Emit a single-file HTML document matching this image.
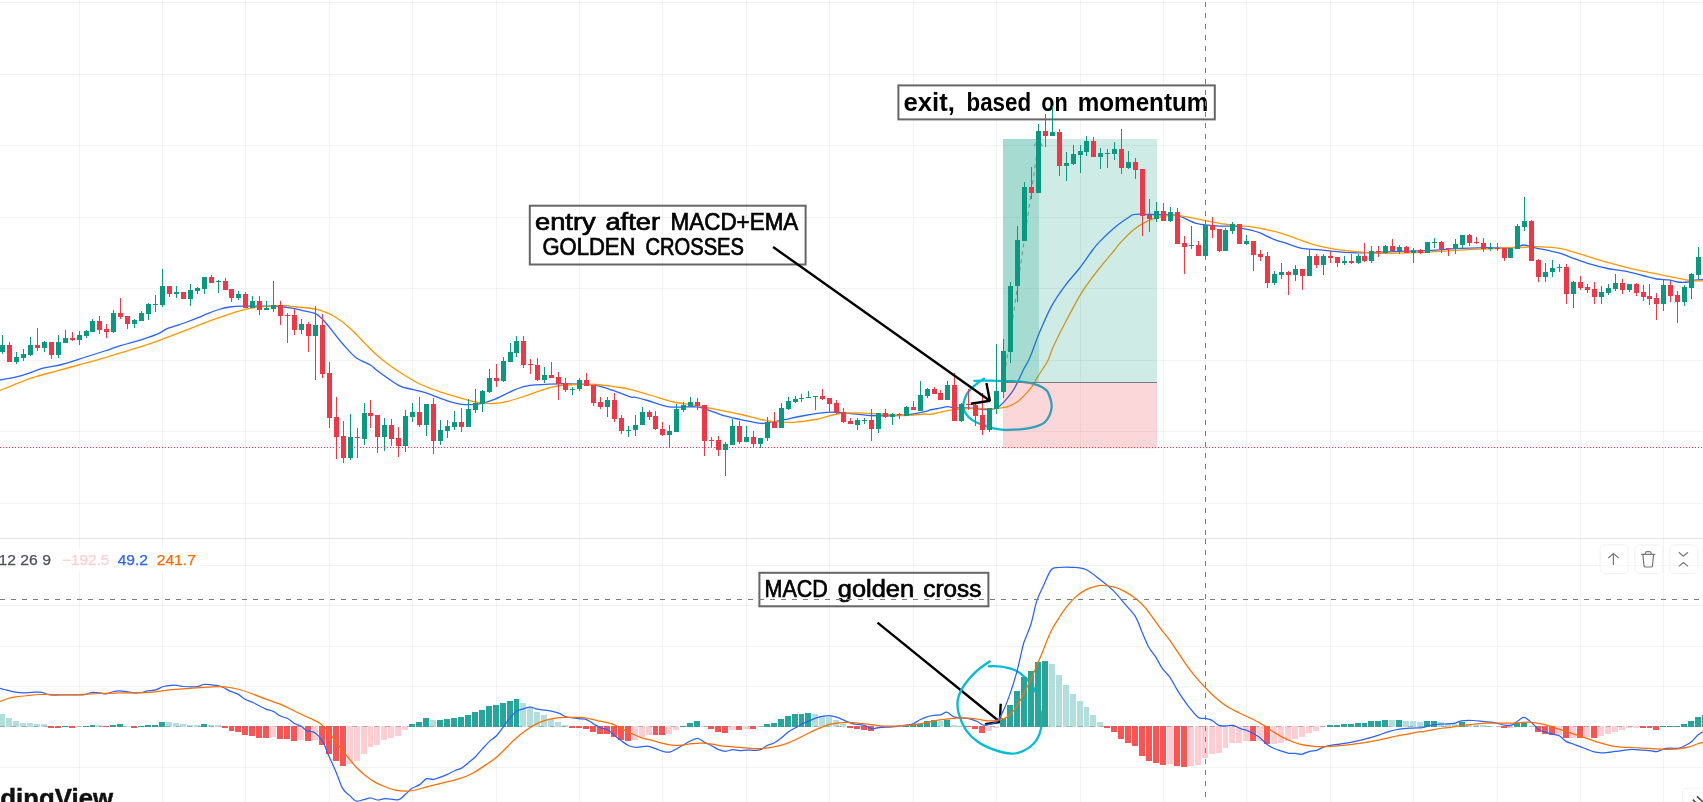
<!DOCTYPE html><html><head><meta charset="utf-8"><title>chart</title><style>
html,body{margin:0;padding:0;background:#fff}body{width:1703px;height:802px;overflow:hidden;position:relative}
svg{position:absolute;left:0;top:0;display:block}text{font-family:"Liberation Sans",sans-serif;will-change:transform}
</style></head><body>
<svg width="1703" height="802" viewBox="0 0 1703 802">
<rect width="1703" height="802" fill="#fff"/>
<path d="M79.5 0V802M162.5 0V802M245.5 0V802M329.5 0V802M412.5 0V802M496.5 0V802M579.5 0V802M662.5 0V802M746.5 0V802M829.5 0V802M913.5 0V802M996.5 0V802M1080.5 0V802M1163.5 0V802M1246.5 0V802M1330.5 0V802M1413.5 0V802M1497.5 0V802M1580.5 0V802M1663.5 0V802" stroke="#2a2e39" stroke-opacity="0.06" stroke-width="1" fill="none" shape-rendering="crispEdges"/>
<path d="M0 2.5H1703M0 74.5H1703M0 145.5H1703M0 217.5H1703M0 288.5H1703M0 360.5H1703M0 431.5H1703M0 503.5H1703M0 565.5H1703M0 605.5H1703M0 646.5H1703M0 686.5H1703M0 767.5H1703" stroke="#2a2e39" stroke-opacity="0.06" stroke-width="1" fill="none" shape-rendering="crispEdges"/>
<rect x="0" y="538" width="1703" height="1" fill="#e2e2e4" shape-rendering="crispEdges"/>
<path d="M0.0 380.0C3.7 379.2 15.2 377.3 22.4 375.3C29.6 373.3 36.5 370.0 43.0 368.2C49.5 366.4 54.8 366.3 61.7 364.5C68.6 362.7 77.0 359.8 84.2 357.5C91.4 355.2 98.8 352.9 104.7 351.0C110.6 349.1 113.8 347.6 119.7 345.8C125.6 344.0 134.1 342.0 140.3 340.1C146.5 338.2 152.4 336.2 157.1 334.2C161.8 332.2 163.3 330.2 168.3 328.2C173.3 326.2 182.0 323.8 187.0 322.0C192.0 320.2 194.8 319.1 198.2 317.7C201.6 316.3 204.2 315.0 207.6 313.6C211.0 312.2 215.1 310.6 218.8 309.5C222.5 308.4 226.2 307.6 230.0 307.0C233.8 306.4 237.6 306.2 241.3 306.1C245.1 306.0 247.5 306.1 252.5 306.1C257.5 306.1 265.9 306.0 271.2 306.1C276.5 306.2 281.2 306.7 284.3 307.0C287.4 307.3 287.2 307.4 290.0 307.9C292.8 308.4 296.6 309.2 300.9 310.1C305.1 311.1 311.9 312.0 315.5 313.6C319.1 315.2 320.4 317.2 322.7 319.5C325.0 321.8 326.0 323.1 329.3 327.1C332.6 331.1 338.0 338.5 342.4 343.5C346.8 348.5 350.8 353.6 355.5 357.2C360.2 360.8 367.1 363.1 370.7 365.3C374.3 367.6 372.6 367.3 377.3 370.7C382.0 374.1 393.3 382.5 399.1 385.6C404.9 388.7 407.8 388.1 412.2 389.3C416.6 390.5 420.2 391.0 425.3 392.6C430.4 394.2 436.9 397.2 442.7 399.1C448.5 401.0 454.4 403.3 460.2 404.1C466.0 404.9 471.9 404.9 477.7 404.1C483.5 403.3 488.8 401.6 495.1 399.1C501.5 396.6 510.0 391.6 515.8 389.3C521.6 387.0 522.9 386.3 530.0 385.4C537.1 384.5 550.0 384.0 558.4 383.8C566.8 383.6 574.0 384.0 580.2 384.3C586.4 384.6 590.0 384.4 595.5 385.4C601.0 386.4 607.1 388.5 612.9 390.4C618.7 392.3 626.8 395.8 630.4 396.9C634.0 398.0 631.5 396.6 634.4 397.2C637.2 397.8 641.7 398.9 647.5 400.5C653.3 402.1 661.3 405.8 669.3 406.8C677.3 407.9 689.7 406.5 695.5 406.8C701.3 407.1 699.1 407.0 704.2 408.6C709.3 410.2 719.1 414.2 726.0 416.2C732.9 418.2 739.8 419.4 745.6 420.6C751.4 421.8 757.2 423.0 760.9 423.4C764.5 423.8 763.9 423.2 767.5 422.7C771.1 422.1 776.5 421.3 782.7 420.1C788.9 418.9 797.3 416.8 804.6 415.5C811.9 414.2 820.6 412.8 826.4 412.3C832.2 411.8 832.2 412.0 839.5 412.5C846.8 413.0 861.3 414.9 870.0 415.5C878.7 416.1 884.5 416.1 891.8 415.8C899.1 415.6 907.9 414.8 913.7 414.0C919.5 413.2 924.0 411.9 926.7 411.2C929.4 410.5 927.8 410.4 930.0 409.9C932.2 409.4 937.1 408.7 940.0 408.2C942.9 407.7 945.0 406.8 947.5 406.7C950.0 406.6 951.2 407.7 954.9 407.9C958.6 408.1 965.4 407.6 969.9 407.9C974.4 408.1 977.9 409.2 981.9 409.4C985.9 409.6 990.8 409.5 993.8 408.9C996.8 408.3 997.8 407.4 999.8 405.9C1001.8 404.4 1003.6 402.4 1005.8 399.9C1008.0 397.4 1010.8 393.9 1012.8 390.9C1014.8 387.9 1016.0 385.5 1017.8 381.9C1019.6 378.2 1022.0 372.6 1023.8 369.0C1025.6 365.4 1027.5 362.7 1028.8 360.0C1030.1 357.3 1030.0 357.4 1031.8 352.7C1033.6 348.0 1036.5 339.6 1039.8 331.8C1043.1 324.0 1047.4 313.7 1051.7 305.9C1056.0 298.1 1061.0 291.2 1065.7 284.9C1070.4 278.6 1075.2 273.8 1079.7 268.0C1084.2 262.2 1089.3 254.4 1092.6 250.0C1095.9 245.6 1095.9 245.5 1099.7 241.6C1103.5 237.7 1110.6 230.8 1115.6 226.7C1120.6 222.5 1126.3 218.8 1129.6 216.7C1132.9 214.6 1130.9 214.6 1135.6 214.3C1140.2 214.0 1150.5 214.5 1157.5 214.7C1164.5 214.9 1170.8 214.2 1177.5 215.7C1184.2 217.2 1190.4 222.0 1197.4 223.7C1204.4 225.4 1213.1 225.7 1219.4 226.1C1225.7 226.5 1231.9 225.8 1235.3 226.1C1238.7 226.4 1237.2 227.2 1240.0 227.9C1242.8 228.6 1248.7 229.5 1252.0 230.3C1255.3 231.1 1256.3 231.4 1260.0 232.9C1263.7 234.4 1269.2 237.5 1273.9 239.3C1278.6 241.1 1283.2 242.3 1287.9 243.8C1292.6 245.3 1296.5 247.4 1301.8 248.4C1307.1 249.4 1313.5 249.2 1319.8 249.8C1326.1 250.4 1333.1 251.3 1339.8 251.8C1346.5 252.3 1353.0 252.7 1359.7 252.8C1366.4 252.9 1373.1 252.4 1379.7 252.2C1386.3 252.0 1392.9 251.6 1399.6 251.4C1406.2 251.2 1412.9 251.1 1419.6 250.8C1426.2 250.5 1432.8 250.2 1439.5 249.8C1446.2 249.4 1452.8 248.7 1459.5 248.4C1466.2 248.1 1472.8 247.9 1479.4 247.8C1486.1 247.7 1495.5 247.8 1499.4 247.8C1503.3 247.9 1500.1 248.2 1503.0 248.1C1505.9 248.0 1513.5 247.7 1517.0 247.2C1520.5 246.7 1521.0 244.9 1523.9 245.0C1526.8 245.1 1530.6 246.7 1534.4 247.6C1538.2 248.5 1542.5 249.3 1546.6 250.2C1550.7 251.1 1554.4 251.5 1558.8 252.8C1563.2 254.1 1567.5 256.2 1572.8 258.1C1578.0 260.0 1584.5 262.5 1590.3 264.2C1596.1 265.9 1601.9 267.3 1607.7 268.5C1613.5 269.7 1619.4 270.0 1625.2 271.2C1631.0 272.4 1637.4 274.2 1642.6 275.5C1647.8 276.8 1652.2 278.3 1656.6 279.0C1661.0 279.7 1665.3 279.4 1668.8 279.9C1672.3 280.4 1674.3 281.6 1677.5 282.0C1680.7 282.4 1685.1 282.3 1688.0 282.0C1690.9 281.7 1692.5 280.6 1695.0 280.2C1697.5 279.8 1701.7 279.6 1703.0 279.5" fill="none" stroke="#2962ff" stroke-width="1.3" stroke-linejoin="round" stroke-linecap="round"/>
<path d="M0.0 390.6C3.1 389.3 12.5 385.2 18.7 382.8C24.9 380.4 31.2 378.1 37.4 376.2C43.6 374.3 49.2 373.1 56.1 371.2C63.0 369.3 71.3 367.0 78.5 365.0C85.7 363.0 92.2 361.4 99.1 359.4C106.0 357.4 112.8 355.3 119.7 353.2C126.6 351.1 133.5 349.1 140.3 346.9C147.2 344.7 154.3 342.2 160.8 339.8C167.3 337.4 173.3 335.1 179.5 332.7C185.7 330.3 192.0 327.8 198.2 325.4C204.4 323.0 211.0 320.4 216.9 318.3C222.8 316.2 228.8 314.3 233.8 312.7C238.8 311.1 242.2 309.9 246.9 308.9C251.6 307.9 257.1 307.2 261.8 306.7C266.5 306.2 270.5 305.9 274.9 305.7C279.3 305.5 285.5 305.6 288.0 305.7C290.5 305.8 287.5 306.1 290.0 306.4C292.5 306.7 298.0 306.9 303.1 307.5C308.2 308.1 315.1 308.7 320.5 310.3C325.9 311.9 330.7 314.1 335.8 317.3C340.9 320.5 344.2 322.9 351.1 329.3C358.0 335.7 369.3 348.4 377.3 355.5C385.3 362.6 391.8 367.0 399.1 371.8C406.4 376.6 413.6 381.0 420.9 384.5C428.2 388.0 435.4 390.2 442.7 392.6C450.0 395.0 458.8 397.5 464.6 399.1C470.4 400.7 473.0 401.7 477.7 402.4C482.4 403.1 487.8 403.7 492.9 403.5C498.0 403.3 502.0 402.8 508.2 401.3C514.4 399.8 522.7 396.7 530.0 394.3C537.3 391.9 544.5 388.7 551.8 387.1C559.1 385.5 566.4 384.9 573.7 384.5C581.0 384.1 588.2 384.1 595.5 384.5C602.8 384.9 611.5 386.3 617.3 387.1C623.0 387.9 624.2 387.9 630.0 389.3C635.8 390.7 644.5 393.4 651.8 395.5C659.1 397.6 666.3 400.4 673.6 402.0C680.9 403.6 688.2 404.0 695.5 405.3C702.8 406.6 710.0 408.2 717.3 409.6C724.6 411.1 731.8 412.4 739.1 414.0C746.4 415.6 755.1 418.2 760.9 419.5C766.7 420.8 768.5 421.1 774.0 421.6C779.5 422.1 786.7 422.7 793.6 422.3C800.5 421.9 808.2 420.9 815.5 419.5C822.8 418.1 830.4 415.1 837.3 414.0C844.2 412.9 849.6 412.9 856.9 412.9C864.2 412.9 873.3 413.6 880.9 414.0C888.5 414.4 895.4 415.5 902.7 415.5C910.0 415.5 920.1 414.2 924.6 414.0C929.1 413.8 927.4 414.7 930.0 414.4C932.6 414.1 936.4 413.1 940.0 412.4C943.6 411.6 946.9 410.6 951.9 409.9C956.9 409.2 964.9 408.6 969.9 408.4C974.9 408.2 977.9 408.6 981.9 408.6C985.9 408.6 990.3 408.8 993.8 408.6C997.3 408.5 1000.1 408.1 1002.8 407.7C1005.5 407.2 1007.3 406.9 1009.8 405.9C1012.3 404.8 1015.1 403.4 1017.8 401.4C1020.5 399.4 1023.5 396.3 1025.8 393.9C1028.1 391.5 1030.0 389.2 1031.7 386.9C1033.4 384.6 1033.9 383.0 1035.7 380.0C1037.5 377.0 1040.6 372.3 1042.7 369.0C1044.8 365.7 1046.4 363.9 1048.2 360.0C1050.0 356.1 1050.8 352.2 1053.7 345.8C1056.6 339.4 1061.4 330.1 1065.7 321.8C1070.0 313.5 1076.1 302.2 1079.7 295.9C1083.3 289.6 1084.3 288.5 1087.6 283.9C1090.9 279.2 1095.1 273.6 1099.6 268.0C1104.1 262.4 1111.3 254.1 1114.6 250.0C1117.9 245.9 1116.4 247.0 1119.6 243.6C1122.8 240.2 1128.9 233.4 1133.6 229.7C1138.2 225.9 1143.2 223.2 1147.5 221.1C1151.8 219.0 1154.8 218.1 1159.5 217.1C1164.2 216.1 1168.8 214.7 1175.5 215.1C1182.2 215.5 1192.1 217.9 1199.4 219.3C1206.7 220.7 1213.4 222.3 1219.4 223.3C1225.4 224.3 1231.9 224.9 1235.3 225.3C1238.7 225.7 1237.2 225.6 1240.0 225.9C1242.8 226.2 1247.7 226.3 1252.0 226.9C1256.3 227.5 1261.2 228.5 1265.9 229.5C1270.6 230.5 1274.9 231.4 1279.9 232.9C1284.9 234.4 1290.9 236.6 1295.9 238.3C1300.9 240.1 1305.2 241.9 1309.8 243.4C1314.4 244.9 1318.8 246.1 1323.8 247.2C1328.8 248.3 1333.8 249.0 1339.8 249.8C1345.8 250.6 1353.0 251.2 1359.7 251.8C1366.4 252.4 1373.1 253.2 1379.7 253.4C1386.3 253.6 1392.9 253.4 1399.6 253.2C1406.2 253.0 1412.9 252.7 1419.6 252.4C1426.2 252.1 1432.8 251.8 1439.5 251.4C1446.2 251.0 1452.8 250.6 1459.5 250.2C1466.2 249.8 1472.8 249.5 1479.4 249.2C1486.1 248.9 1495.5 248.7 1499.4 248.4C1503.3 248.1 1499.5 247.7 1503.0 247.6C1506.5 247.5 1515.3 247.8 1520.5 247.6C1525.7 247.4 1530.1 246.8 1534.4 246.7C1538.8 246.6 1541.9 246.8 1546.6 247.2C1551.2 247.5 1557.3 247.9 1562.3 248.8C1567.2 249.7 1571.6 251.4 1576.3 252.8C1581.0 254.2 1585.1 255.6 1590.3 257.2C1595.5 258.8 1601.9 260.8 1607.7 262.4C1613.5 264.0 1619.4 265.6 1625.2 267.1C1631.0 268.6 1636.8 269.9 1642.6 271.2C1648.4 272.4 1654.3 273.5 1660.1 274.6C1665.9 275.8 1672.8 277.2 1677.5 278.1C1682.2 279.0 1685.1 279.8 1688.0 280.2C1690.9 280.6 1692.5 280.7 1695.0 280.8C1697.5 280.9 1701.7 280.8 1703.0 280.8" fill="none" stroke="#ff9800" stroke-width="1.3" stroke-linejoin="round" stroke-linecap="round"/>
<path d="M974.4 380.9C975.3 380.8 977.4 380.7 980 380.6C982.6 380.6 985.7 380.5 990 380.6C994.3 380.7 1000.8 380.9 1005.8 381.1C1010.8 381.3 1015.1 381.2 1019.8 381.7C1024.5 382.2 1029.9 382.9 1033.7 383.9C1037.5 384.8 1040.4 386.1 1042.7 387.4C1045.0 388.7 1046.4 389.8 1047.7 391.9C1049.0 394.0 1050.0 397.4 1050.7 399.9C1051.4 402.4 1051.9 404.4 1051.7 406.9C1051.5 409.4 1050.9 412.3 1049.7 414.9C1048.5 417.5 1047.2 420.3 1044.7 422.3C1042.2 424.3 1038.9 425.6 1034.7 426.8C1030.5 428.0 1024.8 428.8 1019.8 429.3C1014.8 429.8 1009.1 430.0 1004.8 429.8C1000.5 429.6 997.6 429.1 993.8 428.3C990.0 427.5 985.5 426.2 981.9 424.8C978.2 423.4 974.6 421.7 971.9 419.9C969.2 418.1 967.3 415.9 965.9 413.9C964.5 411.9 963.7 409.9 963.4 407.9C963.1 405.9 963.3 404.2 963.9 401.9C964.5 399.6 965.6 396.2 966.9 393.9C968.2 391.6 970.1 389.7 971.9 387.9C973.7 386.1 975.9 384.4 977.9 382.9C979.9 381.3 982.9 379.3 983.9 378.6" fill="none" stroke="#00bcd4" stroke-width="2.3" stroke-linecap="round" stroke-linejoin="round"/>
<rect x="1003" y="139" width="154" height="243.3" fill="#089981" fill-opacity="0.2"/>
<rect x="1003" y="139" width="36" height="243.3" fill="#089981" fill-opacity="0.2"/>
<rect x="1003" y="382.3" width="154" height="66" fill="#f23645" fill-opacity="0.2"/>
<rect x="1003" y="382" width="154" height="1" fill="#787b86" shape-rendering="crispEdges"/>
<path d="M1003.5 382L1039 139.5" stroke="#8c8c8c" stroke-width="1.1" stroke-dasharray="4 4" fill="none"/>
<path d="M1034 146L1039 139.5L1042.5 146.5" stroke="#8c8c8c" stroke-width="1.1" fill="none"/>
<rect x="898.4" y="85.4" width="316.4" height="34" fill="#fff" stroke="#666666" stroke-width="2"/>
<text x="903.4" y="110.9" font-size="25" fill="#000" font-weight="700" textLength="51.5" lengthAdjust="spacingAndGlyphs">exit,</text>
<text x="966.5" y="110.9" font-size="25" fill="#000" font-weight="700" textLength="64.6" lengthAdjust="spacingAndGlyphs">based</text>
<text x="1041.3" y="110.9" font-size="25" fill="#000" font-weight="700" textLength="26.4" lengthAdjust="spacingAndGlyphs">on</text>
<text x="1077.7" y="110.9" font-size="25" fill="#000" font-weight="700" textLength="130.7" lengthAdjust="spacingAndGlyphs">momentum</text>
<rect x="529.8" y="205.7" width="275.8" height="58.8" fill="none" stroke="#666666" stroke-width="2"/>
<text x="535" y="230.2" font-size="23.3" fill="#000" stroke="#000" stroke-width="0.7" textLength="60.7" lengthAdjust="spacingAndGlyphs">entry</text>
<text x="605.4" y="230.2" font-size="23.3" fill="#000" stroke="#000" stroke-width="0.7" textLength="54.6" lengthAdjust="spacingAndGlyphs">after</text>
<text x="670.6" y="230.2" font-size="23.3" fill="#000" stroke="#000" stroke-width="0.7" textLength="127.7" lengthAdjust="spacingAndGlyphs">MACD+EMA</text>
<text x="542.5" y="254.9" font-size="23.3" fill="#000" stroke="#000" stroke-width="0.7" textLength="92.9" lengthAdjust="spacingAndGlyphs">GOLDEN</text>
<text x="645.4" y="254.9" font-size="23.3" fill="#000" stroke="#000" stroke-width="0.7" textLength="98.6" lengthAdjust="spacingAndGlyphs">CROSSES</text>
<rect x="759.4" y="572.8" width="229" height="33.5" fill="none" stroke="#666666" stroke-width="2"/>
<text x="764.5" y="597.4" font-size="23.3" fill="#000" stroke="#000" stroke-width="0.7" textLength="63.4" lengthAdjust="spacingAndGlyphs">MACD</text>
<text x="837.8" y="597.4" font-size="23.3" fill="#000" stroke="#000" stroke-width="0.7" textLength="76.3" lengthAdjust="spacingAndGlyphs">golden</text>
<text x="923.3" y="597.4" font-size="23.3" fill="#000" stroke="#000" stroke-width="0.7" textLength="58.0" lengthAdjust="spacingAndGlyphs">cross</text>
<path d="M2 335h1V354h-1zM16 352h1V364h-1zM23 349h1V361h-1zM30 337h1V356h-1zM44 341h1V352h-1zM58 335h1V358h-1zM65 330h1V343h-1zM79 331h1V345h-1zM86 330h1V338h-1zM92 319h1V332h-1zM113 310h1V333h-1zM134 319h1V328h-1zM141 311h1V321h-1zM148 303h1V320h-1zM155 295h1V312h-1zM162 269h1V307h-1zM176 286h1V298h-1zM190 284h1V306h-1zM197 287h1V294h-1zM204 277h1V294h-1zM218 280h1V293h-1zM238 291h1V300h-1zM252 296h1V308h-1zM266 301h1V310h-1zM273 281h1V312h-1zM301 319h1V334h-1zM315 306h1V380h-1zM350 414h1V460h-1zM364 403h1V445h-1zM384 418h1V451h-1zM405 410h1V452h-1zM412 403h1V422h-1zM426 404h1V436h-1zM440 420h1V445h-1zM447 420h1V438h-1zM454 411h1V430h-1zM468 399h1V427h-1zM475 389h1V413h-1zM482 390h1V412h-1zM489 369h1V393h-1zM503 357h1V382h-1zM510 343h1V362h-1zM516 336h1V357h-1zM544 367h1V383h-1zM572 387h1V395h-1zM579 378h1V391h-1zM607 397h1V417h-1zM628 426h1V437h-1zM635 415h1V436h-1zM642 407h1V425h-1zM669 425h1V447h-1zM676 404h1V432h-1zM683 402h1V412h-1zM690 397h1V406h-1zM725 442h1V476h-1zM732 419h1V445h-1zM746 426h1V442h-1zM760 438h1V448h-1zM767 417h1V441h-1zM781 403h1V428h-1zM788 397h1V410h-1zM795 396h1V403h-1zM801 394h1V402h-1zM808 391h1V398h-1zM815 396h1V410h-1zM857 418h1V430h-1zM864 418h1V424h-1zM878 413h1V433h-1zM892 413h1V425h-1zM906 406h1V416h-1zM920 381h1V411h-1zM927 388h1V398h-1zM947 381h1V400h-1zM961 403h1V422h-1zM989 408h1V432h-1zM996 344h1V414h-1zM1003 339h1V398h-1zM1010 282h1V363h-1zM1017 226h1V302h-1zM1024 182h1V241h-1zM1038 124h1V193h-1zM1052 106h1V136h-1zM1066 152h1V181h-1zM1073 145h1V165h-1zM1080 145h1V173h-1zM1086 136h1V156h-1zM1100 148h1V169h-1zM1107 149h1V168h-1zM1114 142h1V160h-1zM1128 151h1V169h-1zM1156 202h1V222h-1zM1170 207h1V222h-1zM1191 226h1V249h-1zM1205 220h1V256h-1zM1225 228h1V251h-1zM1232 222h1V234h-1zM1246 235h1V245h-1zM1274 271h1V285h-1zM1281 263h1V279h-1zM1295 265h1V281h-1zM1309 250h1V276h-1zM1323 254h1V275h-1zM1344 256h1V265h-1zM1358 254h1V264h-1zM1371 246h1V263h-1zM1385 245h1V254h-1zM1399 245h1V254h-1zM1413 248h1V263h-1zM1427 242h1V253h-1zM1434 238h1V248h-1zM1455 239h1V254h-1zM1462 235h1V248h-1zM1490 243h1V251h-1zM1510 248h1V258h-1zM1517 224h1V249h-1zM1524 197h1V231h-1zM1545 263h1V282h-1zM1552 260h1V277h-1zM1559 264h1V272h-1zM1573 281h1V308h-1zM1601 286h1V304h-1zM1608 284h1V295h-1zM1615 274h1V291h-1zM1629 284h1V292h-1zM1663 279h1V311h-1zM1684 285h1V306h-1zM1691 273h1V299h-1zM1698 247h1V279h-1zM1705 250h1V262h-1zM0 345h5V352h-5zM14 357h5V362h-5zM21 354h5V358h-5zM28 345h5V355h-5zM42 342h5V348h-5zM56 342h5V355h-5zM63 338h5V343h-5zM77 335h5V340h-5zM84 331h5V336h-5zM90 321h5V332h-5zM111 313h5V332h-5zM132 320h5V324h-5zM139 313h5V321h-5zM146 304h5V314h-5zM153 304h5V305h-5zM160 286h5V305h-5zM174 292h5V294h-5zM188 290h5V299h-5zM195 288h5V291h-5zM202 277h5V289h-5zM216 281h5V282h-5zM236 294h5V298h-5zM250 301h5V308h-5zM264 308h5V310h-5zM271 305h5V309h-5zM299 324h5V330h-5zM313 325h5V336h-5zM348 437h5V458h-5zM362 413h5V439h-5zM382 425h5V437h-5zM403 416h5V446h-5zM410 412h5V417h-5zM424 404h5V425h-5zM438 430h5V441h-5zM445 426h5V431h-5zM452 422h5V427h-5zM466 409h5V427h-5zM473 403h5V410h-5zM480 391h5V404h-5zM487 378h5V392h-5zM501 361h5V381h-5zM508 352h5V362h-5zM514 341h5V353h-5zM542 375h5V380h-5zM570 389h5V390h-5zM577 380h5V389h-5zM605 400h5V407h-5zM626 430h5V431h-5zM633 425h5V430h-5zM640 412h5V425h-5zM667 431h5V435h-5zM674 409h5V432h-5zM681 405h5V410h-5zM688 402h5V406h-5zM723 444h5V450h-5zM730 426h5V445h-5zM744 437h5V442h-5zM758 438h5V444h-5zM765 422h5V438h-5zM779 408h5V428h-5zM786 401h5V409h-5zM793 399h5V402h-5zM799 398h5V399h-5zM806 397h5V398h-5zM813 396h5V397h-5zM855 420h5V425h-5zM862 420h5V421h-5zM876 413h5V429h-5zM890 414h5V417h-5zM904 407h5V416h-5zM918 395h5V411h-5zM925 389h5V396h-5zM945 385h5V400h-5zM959 404h5V421h-5zM987 408h5V430h-5zM994 391h5V409h-5zM1001 351h5V392h-5zM1008 286h5V352h-5zM1015 240h5V286h-5zM1022 187h5V241h-5zM1036 131h5V193h-5zM1050 132h5V136h-5zM1064 163h5V166h-5zM1071 154h5V164h-5zM1078 151h5V155h-5zM1084 141h5V152h-5zM1098 153h5V157h-5zM1105 153h5V154h-5zM1112 149h5V154h-5zM1126 162h5V168h-5zM1154 211h5V219h-5zM1168 212h5V221h-5zM1189 245h5V246h-5zM1203 225h5V256h-5zM1223 230h5V251h-5zM1230 224h5V231h-5zM1244 241h5V244h-5zM1272 274h5V283h-5zM1279 272h5V275h-5zM1293 269h5V275h-5zM1307 256h5V276h-5zM1321 256h5V265h-5zM1342 261h5V263h-5zM1356 256h5V263h-5zM1369 251h5V261h-5zM1383 246h5V253h-5zM1397 247h5V251h-5zM1411 250h5V253h-5zM1425 242h5V253h-5zM1432 242h5V243h-5zM1453 244h5V249h-5zM1460 235h5V245h-5zM1488 248h5V249h-5zM1508 248h5V258h-5zM1515 226h5V249h-5zM1522 221h5V227h-5zM1543 272h5V277h-5zM1550 268h5V272h-5zM1557 267h5V268h-5zM1571 282h5V294h-5zM1599 292h5V297h-5zM1606 288h5V293h-5zM1613 283h5V289h-5zM1627 284h5V290h-5zM1661 285h5V304h-5zM1682 287h5V302h-5zM1689 274h5V288h-5zM1696 257h5V275h-5zM1703 252h5V257h-5z" fill="#089981" shape-rendering="crispEdges"/>
<path d="M9 342h1V362h-1zM37 328h1V351h-1zM51 342h1V359h-1zM72 332h1V341h-1zM99 316h1V334h-1zM106 324h1V338h-1zM120 298h1V319h-1zM127 316h1V329h-1zM169 286h1V297h-1zM183 292h1V299h-1zM211 275h1V283h-1zM225 278h1V290h-1zM231 289h1V302h-1zM245 292h1V308h-1zM259 296h1V315h-1zM280 301h1V325h-1zM287 313h1V343h-1zM294 309h1V335h-1zM308 322h1V352h-1zM322 314h1V378h-1zM329 362h1V428h-1zM336 397h1V459h-1zM343 421h1V463h-1zM357 428h1V458h-1zM370 400h1V428h-1zM377 415h1V453h-1zM391 419h1V446h-1zM398 427h1V457h-1zM419 397h1V427h-1zM433 398h1V454h-1zM461 408h1V432h-1zM496 364h1V387h-1zM523 336h1V368h-1zM530 359h1V374h-1zM537 358h1V381h-1zM551 362h1V378h-1zM558 372h1V400h-1zM565 378h1V392h-1zM586 373h1V386h-1zM593 385h1V406h-1zM600 397h1V409h-1zM614 393h1V422h-1zM621 415h1V434h-1zM649 410h1V420h-1zM655 411h1V430h-1zM662 422h1V436h-1zM697 398h1V410h-1zM704 405h1V456h-1zM711 437h1V448h-1zM718 436h1V456h-1zM739 421h1V444h-1zM753 431h1V447h-1zM774 412h1V428h-1zM822 389h1V400h-1zM829 398h1V412h-1zM836 400h1V414h-1zM843 408h1V423h-1zM850 418h1V424h-1zM871 409h1V441h-1zM885 409h1V418h-1zM899 413h1V419h-1zM913 401h1V410h-1zM934 387h1V394h-1zM940 390h1V400h-1zM954 373h1V421h-1zM968 389h1V410h-1zM975 403h1V426h-1zM982 393h1V435h-1zM1031 167h1V199h-1zM1045 114h1V147h-1zM1059 129h1V176h-1zM1093 137h1V157h-1zM1121 129h1V174h-1zM1135 158h1V179h-1zM1142 169h1V236h-1zM1149 199h1V232h-1zM1163 203h1V221h-1zM1177 208h1V244h-1zM1184 236h1V274h-1zM1198 241h1V256h-1zM1212 217h1V238h-1zM1219 229h1V252h-1zM1239 224h1V244h-1zM1253 241h1V271h-1zM1260 250h1V261h-1zM1267 252h1V288h-1zM1288 271h1V295h-1zM1302 269h1V290h-1zM1316 254h1V268h-1zM1330 251h1V263h-1zM1337 257h1V267h-1zM1351 254h1V264h-1zM1364 243h1V262h-1zM1378 246h1V257h-1zM1392 239h1V251h-1zM1406 246h1V253h-1zM1420 249h1V254h-1zM1441 241h1V253h-1zM1448 248h1V256h-1zM1469 234h1V246h-1zM1476 237h1V244h-1zM1483 238h1V252h-1zM1497 243h1V251h-1zM1504 248h1V261h-1zM1531 220h1V261h-1zM1538 259h1V282h-1zM1566 264h1V304h-1zM1580 276h1V290h-1zM1587 284h1V293h-1zM1594 282h1V304h-1zM1622 279h1V294h-1zM1636 283h1V296h-1zM1643 285h1V301h-1zM1649 284h1V305h-1zM1656 293h1V320h-1zM1670 281h1V302h-1zM1677 291h1V323h-1zM7 345h5V362h-5zM35 345h5V348h-5zM49 342h5V355h-5zM70 338h5V340h-5zM97 321h5V330h-5zM104 329h5V332h-5zM118 313h5V317h-5zM125 316h5V324h-5zM167 286h5V294h-5zM181 292h5V299h-5zM209 277h5V283h-5zM223 281h5V290h-5zM229 289h5V298h-5zM243 294h5V308h-5zM257 301h5V310h-5zM278 305h5V316h-5zM285 315h5V316h-5zM292 315h5V330h-5zM306 324h5V336h-5zM320 325h5V374h-5zM327 373h5V418h-5zM334 417h5V437h-5zM341 436h5V458h-5zM355 437h5V438h-5zM368 413h5V416h-5zM375 415h5V437h-5zM389 425h5V439h-5zM396 438h5V446h-5zM417 412h5V425h-5zM431 404h5V441h-5zM459 422h5V427h-5zM494 378h5V381h-5zM521 341h5V365h-5zM528 364h5V365h-5zM535 365h5V380h-5zM549 375h5V378h-5zM556 377h5V384h-5zM563 383h5V390h-5zM584 380h5V386h-5zM591 385h5V403h-5zM598 402h5V407h-5zM612 400h5V419h-5zM619 418h5V431h-5zM647 412h5V417h-5zM653 416h5V429h-5zM660 429h5V435h-5zM695 402h5V406h-5zM702 405h5V441h-5zM709 440h5V441h-5zM716 440h5V450h-5zM737 426h5V442h-5zM751 437h5V444h-5zM772 422h5V428h-5zM820 396h5V399h-5zM827 398h5V404h-5zM834 403h5V412h-5zM841 412h5V422h-5zM848 421h5V424h-5zM869 420h5V429h-5zM883 413h5V417h-5zM897 414h5V415h-5zM911 407h5V410h-5zM932 389h5V394h-5zM938 393h5V400h-5zM952 385h5V421h-5zM966 404h5V405h-5zM973 405h5V416h-5zM980 415h5V430h-5zM1029 187h5V193h-5zM1043 131h5V136h-5zM1057 132h5V166h-5zM1091 141h5V157h-5zM1119 149h5V168h-5zM1133 162h5V170h-5zM1140 169h5V216h-5zM1147 215h5V219h-5zM1161 211h5V221h-5zM1175 212h5V244h-5zM1182 243h5V247h-5zM1196 245h5V256h-5zM1210 225h5V230h-5zM1217 229h5V251h-5zM1237 224h5V244h-5zM1251 241h5V255h-5zM1258 254h5V257h-5zM1265 256h5V283h-5zM1286 272h5V275h-5zM1300 269h5V276h-5zM1314 256h5V265h-5zM1328 256h5V258h-5zM1335 257h5V263h-5zM1349 261h5V263h-5zM1362 256h5V261h-5zM1376 251h5V252h-5zM1390 246h5V251h-5zM1404 247h5V253h-5zM1418 250h5V253h-5zM1439 242h5V249h-5zM1446 248h5V249h-5zM1467 235h5V243h-5zM1474 242h5V243h-5zM1481 243h5V249h-5zM1495 248h5V249h-5zM1502 248h5V258h-5zM1529 221h5V261h-5zM1536 260h5V277h-5zM1564 267h5V294h-5zM1578 282h5V288h-5zM1585 287h5V290h-5zM1592 289h5V297h-5zM1620 283h5V290h-5zM1634 284h5V293h-5zM1641 292h5V297h-5zM1647 296h5V299h-5zM1654 298h5V304h-5zM1668 285h5V296h-5zM1675 295h5V302h-5z" fill="#f23645" shape-rendering="crispEdges"/>
<path d="M0 447.5H1703" stroke="#f23645" stroke-width="1" stroke-dasharray="1 2" shape-rendering="crispEdges"/>
<g stroke="#000" stroke-width="2.4" fill="none" stroke-linecap="butt" stroke-linejoin="bevel">
<path d="M773.1 247L989.9 400.7"/><path d="M986.4 383.1L989.9 400.7L970.9 403.7"/>
<path d="M877.5 622.6L999.7 721.8"/><path d="M1000.7 703.8L999.9 722L985.1 724.2"/>
</g>
<path d="M989.7 661.4C987.4 663.1 980.1 667.8 975.8 671.9C971.5 676.0 966.8 681.2 963.8 685.9C960.8 690.6 958.6 695.2 957.8 699.9C957.0 704.5 957.5 708.8 958.8 713.8C960.1 718.8 962.6 725.1 965.8 729.8C969.0 734.5 973.1 738.5 977.8 741.8C982.4 745.1 988.1 747.7 993.7 749.7C999.4 751.7 1006.7 753.5 1011.7 753.7C1016.7 753.9 1020.0 752.4 1023.6 750.7C1027.2 749.0 1030.9 746.5 1033.6 743.7C1036.3 740.9 1038.3 737.4 1039.6 733.8C1040.9 730.1 1041.6 726.5 1041.6 721.8C1041.6 717.1 1040.9 711.4 1039.6 705.8C1038.3 700.1 1036.9 693.4 1033.6 687.9C1030.3 682.4 1024.0 676.2 1019.7 672.9C1015.4 669.6 1011.4 669.0 1007.7 667.9C1004.0 666.8 1000.9 666.6 997.7 666.3C994.5 666.0 990.2 666.3 988.7 666.3" fill="none" stroke="#00bcd4" stroke-width="2.3" stroke-linecap="round" stroke-linejoin="round"/>
<path d="M62 726h6v1h-6zM83 726h6v1h-6zM90 725h5v2h-5zM110 725h6v2h-6zM117 724h6v3h-6zM138 726h6v1h-6zM145 725h6v2h-6zM152 725h6v2h-6zM159 722h6v5h-6zM201 724h6v3h-6zM409 724h6v3h-6zM416 722h6v5h-6zM423 718h6v9h-6zM437 720h6v7h-6zM444 719h6v8h-6zM451 718h6v9h-6zM458 717h6v10h-6zM465 715h6v12h-6zM472 712h6v15h-6zM479 710h6v17h-6zM486 706h6v21h-6zM493 705h6v22h-6zM500 703h6v24h-6zM507 701h6v26h-6zM514 699h5v28h-5zM680 726h6v1h-6zM687 723h6v4h-6zM694 721h6v6h-6zM764 724h6v3h-6zM771 723h6v4h-6zM778 719h6v8h-6zM785 716h6v11h-6zM792 714h6v13h-6zM799 714h5v13h-5zM805 713h6v14h-6zM903 726h6v1h-6zM910 725h6v2h-6zM917 724h6v3h-6zM924 721h6v6h-6zM931 720h6v7h-6zM944 720h6v7h-6zM1000 718h6v9h-6zM1007 705h6v22h-6zM1014 691h6v36h-6zM1021 677h6v50h-6zM1028 671h6v56h-6zM1035 662h6v65h-6zM1042 661h6v66h-6zM1327 725h6v2h-6zM1334 725h6v2h-6zM1341 724h6v3h-6zM1348 724h6v3h-6zM1355 723h6v4h-6zM1362 723h5v4h-5zM1368 721h6v6h-6zM1375 721h6v6h-6zM1382 720h6v7h-6zM1396 720h6v7h-6zM1424 721h6v6h-6zM1431 721h6v6h-6zM1459 722h6v5h-6zM1514 723h6v4h-6zM1521 723h6v4h-6zM1660 726h6v1h-6zM1667 726h6v1h-6zM1674 726h6v1h-6zM1681 724h6v3h-6zM1688 721h6v6h-6zM1695 717h6v10h-6zM1702 715h6v12h-6z" fill="#26a69a" shape-rendering="crispEdges"/>
<path d="M-1 714h6v13h-6zM6 718h6v9h-6zM13 721h6v6h-6zM20 723h6v4h-6zM27 723h6v4h-6zM34 724h6v3h-6zM41 724h6v3h-6zM96 725h6v2h-6zM124 726h6v1h-6zM166 722h6v5h-6zM173 723h6v4h-6zM180 724h6v3h-6zM187 725h6v2h-6zM194 725h6v2h-6zM208 725h6v2h-6zM215 725h6v2h-6zM430 720h6v7h-6zM520 703h6v24h-6zM527 708h6v19h-6zM534 712h6v15h-6zM541 715h6v12h-6zM548 719h6v8h-6zM555 722h6v5h-6zM562 725h6v2h-6zM701 726h6v1h-6zM812 714h6v13h-6zM819 716h6v11h-6zM826 717h6v10h-6zM833 720h6v7h-6zM840 724h6v3h-6zM938 721h5v6h-5zM951 725h6v2h-6zM1049 664h6v63h-6zM1056 675h6v52h-6zM1063 685h6v42h-6zM1070 694h6v33h-6zM1077 701h6v26h-6zM1084 707h5v20h-5zM1090 715h6v12h-6zM1097 722h6v5h-6zM1389 720h6v7h-6zM1403 721h6v6h-6zM1410 721h6v6h-6zM1417 722h6v5h-6zM1438 722h6v5h-6zM1445 723h6v4h-6zM1452 724h6v3h-6zM1466 724h6v3h-6zM1473 725h6v2h-6zM1480 725h6v2h-6zM1487 726h6v1h-6z" fill="#b2dfdb" shape-rendering="crispEdges"/>
<path d="M48 726h6v2h-6zM55 726h6v2h-6zM69 726h6v2h-6zM103 726h6v1h-6zM131 726h6v2h-6zM222 726h6v2h-6zM229 726h5v5h-5zM235 726h6v6h-6zM242 726h6v9h-6zM249 726h6v10h-6zM256 726h6v12h-6zM263 726h6v12h-6zM277 726h6v13h-6zM284 726h6v13h-6zM291 726h6v15h-6zM305 726h6v15h-6zM319 726h6v19h-6zM326 726h6v28h-6zM333 726h6v35h-6zM340 726h6v40h-6zM569 726h6v2h-6zM576 726h6v2h-6zM583 726h6v3h-6zM590 726h6v6h-6zM597 726h6v8h-6zM604 726h6v8h-6zM611 726h6v11h-6zM618 726h6v14h-6zM625 726h6v15h-6zM653 726h5v9h-5zM659 726h6v9h-6zM708 726h6v3h-6zM715 726h6v6h-6zM722 726h6v7h-6zM736 726h6v4h-6zM750 726h6v3h-6zM847 726h6v2h-6zM854 726h6v3h-6zM861 726h6v4h-6zM868 726h6v5h-6zM965 726h6v1h-6zM972 726h6v3h-6zM979 726h6v7h-6zM1104 726h6v2h-6zM1111 726h6v6h-6zM1118 726h6v13h-6zM1125 726h6v17h-6zM1132 726h6v20h-6zM1139 726h6v30h-6zM1146 726h6v35h-6zM1153 726h6v37h-6zM1160 726h6v39h-6zM1174 726h6v40h-6zM1181 726h6v41h-6zM1250 726h6v15h-6zM1264 726h6v18h-6zM1501 726h6v2h-6zM1535 726h6v6h-6zM1542 726h6v8h-6zM1549 726h6v9h-6zM1563 726h6v12h-6zM1577 726h6v12h-6zM1591 726h6v12h-6zM1640 726h6v2h-6zM1647 726h5v2h-5zM1653 726h6v4h-6z" fill="#ff5252" shape-rendering="crispEdges"/>
<path d="M270 726h6v11h-6zM298 726h6v14h-6zM312 726h6v14h-6zM347 726h6v38h-6zM354 726h6v35h-6zM361 726h6v28h-6zM368 726h5v21h-5zM374 726h6v19h-6zM381 726h6v14h-6zM388 726h6v12h-6zM395 726h6v10h-6zM402 726h6v4h-6zM632 726h6v14h-6zM639 726h6v11h-6zM646 726h6v9h-6zM666 726h6v8h-6zM673 726h6v4h-6zM729 726h6v4h-6zM743 726h6v3h-6zM757 726h6v1h-6zM875 726h6v3h-6zM882 726h6v1h-6zM889 726h6v1h-6zM986 726h6v5h-6zM993 726h6v2h-6zM1167 726h6v38h-6zM1188 726h6v40h-6zM1195 726h6v39h-6zM1202 726h6v32h-6zM1209 726h6v28h-6zM1216 726h6v27h-6zM1223 726h5v22h-5zM1229 726h6v17h-6zM1236 726h6v17h-6zM1243 726h6v15h-6zM1257 726h6v15h-6zM1271 726h6v18h-6zM1278 726h6v17h-6zM1285 726h6v15h-6zM1292 726h6v13h-6zM1299 726h6v11h-6zM1306 726h6v7h-6zM1313 726h6v5h-6zM1320 726h6v1h-6zM1508 726h5v2h-5zM1556 726h6v9h-6zM1570 726h6v12h-6zM1584 726h6v11h-6zM1598 726h6v10h-6zM1605 726h6v8h-6zM1612 726h6v6h-6zM1619 726h6v4h-6zM1626 726h6v2h-6zM1633 726h6v2h-6z" fill="#ffcdd2" shape-rendering="crispEdges"/>
<path d="M0 726.5H1703" stroke="#787b86" stroke-opacity="0.5" stroke-width="1" stroke-dasharray="5 6" shape-rendering="crispEdges"/>
<path d="M0.0 688.3C1.0 688.6 3.7 689.3 6.0 689.9C8.3 690.5 11.0 691.4 14.0 691.9C17.0 692.4 20.9 692.8 23.9 692.9C26.9 693.0 28.9 692.4 31.9 692.3C34.9 692.2 38.9 691.9 41.9 692.3C44.9 692.7 45.9 694.5 49.9 694.9C53.9 695.3 60.8 694.9 65.8 694.9C70.8 694.9 76.5 695.0 79.8 694.9C83.1 694.8 83.8 694.7 85.8 694.3C87.8 693.9 89.5 692.7 91.8 692.5C94.1 692.3 97.5 692.7 99.8 692.9C102.1 693.1 103.4 694.1 105.7 693.9C108.0 693.7 111.4 692.0 113.7 691.5C116.0 691.0 117.4 690.8 119.7 690.9C122.0 691.0 125.0 691.6 127.7 691.9C130.4 692.2 133.4 692.8 135.7 692.9C138.0 693.0 139.6 692.8 141.6 692.5C143.6 692.2 145.3 691.3 147.6 690.9C149.9 690.5 152.9 690.6 155.6 689.9C158.3 689.2 160.9 687.3 163.6 686.5C166.3 685.7 169.3 685.5 171.6 685.3C173.9 685.1 175.6 685.3 177.6 685.5C179.6 685.7 180.2 686.3 183.5 686.5C186.8 686.7 194.2 686.8 197.5 686.5C200.8 686.2 201.2 684.8 203.5 684.5C205.8 684.2 209.2 684.7 211.5 684.9C213.8 685.1 215.5 685.1 217.5 685.5C219.5 685.9 221.4 686.6 223.4 687.5C225.4 688.4 227.1 689.8 229.4 690.9C231.7 692.0 234.7 692.5 237.4 693.9C240.1 695.3 242.7 698.0 245.4 699.5C248.1 701.0 250.1 701.2 253.4 702.8C256.7 704.3 262.0 707.4 265.3 708.8C268.6 710.2 270.9 710.2 273.3 711.4C275.8 712.6 277.6 714.6 280.0 715.8C282.4 717.0 285.7 717.6 288.0 718.8C290.3 720.0 291.7 721.9 294.0 723.2C296.3 724.5 299.8 725.5 301.9 726.8C304.0 728.1 304.7 729.8 306.9 730.8C309.1 731.8 312.2 731.0 314.9 732.8C317.6 734.6 320.7 738.3 322.9 741.8C325.1 745.3 325.7 748.7 327.9 753.7C330.1 758.7 333.4 765.9 335.9 771.7C338.4 777.5 340.5 784.6 342.8 788.6C345.1 792.6 347.6 793.5 349.8 795.6C352.0 797.7 353.5 800.3 355.8 801.0C358.1 801.7 361.3 800.1 363.8 799.6C366.3 799.1 368.5 797.9 370.8 798.0C373.1 798.1 375.3 799.9 377.8 800.0C380.3 800.1 382.2 798.7 385.7 798.6C389.2 798.5 395.4 800.4 398.7 799.6C402.0 798.8 403.5 795.8 405.7 794.0C407.9 792.2 409.4 790.2 411.7 788.6C414.0 787.0 417.2 786.2 419.7 784.6C422.2 783.0 424.3 779.6 426.6 778.7C428.9 777.8 430.3 780.0 433.6 779.3C436.9 778.6 443.1 776.1 446.6 774.7C450.1 773.3 452.1 771.8 454.6 770.7C457.1 769.6 459.2 769.4 461.5 768.1C463.8 766.8 466.2 764.6 468.5 762.7C470.8 760.8 473.2 759.0 475.5 756.7C477.8 754.4 480.2 751.2 482.5 748.7C484.8 746.2 487.2 743.5 489.5 741.4C491.8 739.2 494.2 738.2 496.5 735.8C498.8 733.4 501.2 729.6 503.4 726.8C505.5 724.0 507.2 721.4 509.4 718.8C511.6 716.2 514.1 712.9 516.4 711.2C518.7 709.5 521.1 709.5 523.4 708.8C525.7 708.1 528.1 707.1 530.4 707.2C532.7 707.3 534.9 708.7 537.4 709.2C539.9 709.7 542.8 709.8 545.3 710.2C547.8 710.6 550.0 710.9 552.3 711.4C554.6 711.9 557.0 712.5 559.3 713.4C561.6 714.3 564.0 716.1 566.3 716.8C568.6 717.5 571.0 717.5 573.3 717.8C575.6 718.1 577.7 718.5 580.0 718.8C582.3 719.1 584.7 718.9 587.0 719.8C589.3 720.7 591.7 722.9 594.0 724.2C596.3 725.5 598.6 726.9 600.9 727.8C603.2 728.7 605.6 728.5 607.9 729.8C610.2 731.1 612.6 733.9 614.9 735.8C617.2 737.7 619.6 739.6 621.9 741.2C624.2 742.9 626.6 744.7 628.9 745.7C631.2 746.7 633.6 747.1 635.9 747.3C638.2 747.5 640.6 746.9 642.8 746.7C644.9 746.5 646.6 746.0 648.8 746.3C651.0 746.6 653.5 747.9 655.8 748.7C658.1 749.5 660.5 750.7 662.8 751.3C665.1 751.9 667.5 752.5 669.8 752.1C672.1 751.7 674.5 749.9 676.8 748.7C679.1 747.5 681.4 746.0 683.7 744.7C686.0 743.4 688.4 741.8 690.7 740.8C693.0 739.8 695.4 738.1 697.7 738.4C700.0 738.6 702.4 741.1 704.7 742.3C707.0 743.5 709.4 744.5 711.7 745.7C714.0 746.9 716.4 748.8 718.7 749.7C721.0 750.6 723.3 751.3 725.6 751.3C727.9 751.3 730.3 749.8 732.6 749.7C734.9 749.6 737.3 750.6 739.6 750.7C741.9 750.8 744.3 750.2 746.6 750.1C748.9 750.0 751.3 750.4 753.6 750.3C755.9 750.2 758.2 750.5 760.5 749.7C762.8 748.9 765.2 746.5 767.5 745.3C769.8 744.1 772.2 744.0 774.5 742.7C776.8 741.5 779.2 739.6 781.5 737.8C783.8 736.0 786.2 733.5 788.5 731.8C790.8 730.1 793.2 729.1 795.5 727.8C797.8 726.5 800.1 725.0 802.4 723.8C804.7 722.6 807.1 721.8 809.4 720.8C811.7 719.8 814.1 718.6 816.4 717.8C818.7 717.0 821.1 716.5 823.4 716.2C825.7 715.9 828.1 715.6 830.4 715.8C832.7 716.0 835.1 716.6 837.4 717.4C839.7 718.2 842.0 719.4 844.3 720.4C846.6 721.4 849.0 722.7 851.3 723.4C853.6 724.1 856.0 724.0 858.3 724.4C860.6 724.8 863.0 725.1 865.3 725.8C867.6 726.5 869.8 728.5 872.3 728.8C874.8 729.1 876.7 727.7 880.0 727.4C883.3 727.1 888.0 727.1 892.0 726.8C896.0 726.5 900.4 725.9 903.9 725.4C907.4 724.9 910.2 724.7 912.9 723.8C915.6 722.9 917.6 721.0 919.9 719.8C922.2 718.6 924.6 717.5 926.9 716.8C929.2 716.1 931.6 715.7 933.9 715.4C936.2 715.1 938.6 715.3 940.8 714.8C942.9 714.3 944.6 711.9 946.8 712.2C949.0 712.5 951.3 715.9 953.8 716.8C956.3 717.7 959.1 717.5 961.8 717.8C964.5 718.1 967.1 718.1 969.8 718.8C972.5 719.5 975.5 720.7 977.8 721.8C980.1 722.9 981.4 724.9 983.7 725.2C986.0 725.5 989.4 724.5 991.7 723.8C994.0 723.1 995.7 723.1 997.7 720.8C999.7 718.5 1001.7 714.1 1003.7 709.8C1005.7 705.5 1007.7 700.5 1009.7 694.9C1011.7 689.2 1014.0 681.7 1015.7 675.9C1017.4 670.1 1018.4 665.5 1019.7 660.0C1021.1 654.5 1021.9 648.7 1023.8 642.8C1025.6 636.9 1028.6 631.8 1030.8 624.8C1033.0 617.8 1034.6 607.5 1036.8 600.9C1039.0 594.2 1041.4 590.1 1043.8 584.9C1046.2 579.7 1048.9 572.4 1051.4 569.5C1053.9 566.6 1055.4 567.9 1058.8 567.5C1062.2 567.1 1067.2 567.0 1071.7 567.3C1076.2 567.6 1081.0 567.5 1085.7 569.5C1090.4 571.5 1095.1 575.7 1099.7 579.3C1104.3 582.9 1109.3 586.6 1113.6 590.9C1117.9 595.2 1121.9 600.6 1125.6 604.9C1129.3 609.2 1132.9 612.5 1135.6 616.8C1138.2 621.1 1139.3 625.8 1141.5 630.8C1143.7 635.8 1146.2 642.4 1148.5 646.7C1150.8 651.0 1153.2 653.0 1155.5 656.7C1157.8 660.4 1160.2 665.4 1162.5 668.7C1164.8 672.0 1167.2 673.4 1169.5 676.7C1171.8 680.0 1174.8 685.7 1176.5 688.6C1178.2 691.5 1178.1 691.4 1180.0 694.3C1181.9 697.2 1185.0 702.0 1188.0 705.8C1191.0 709.6 1195.2 715.1 1198.0 717.2C1200.8 719.3 1202.6 717.9 1204.9 718.4C1207.2 718.9 1209.6 719.2 1211.9 720.4C1214.2 721.6 1216.6 724.5 1218.9 725.4C1221.2 726.3 1223.6 725.8 1225.9 725.8C1228.2 725.8 1230.6 725.0 1232.9 725.4C1235.2 725.8 1237.6 727.6 1239.9 728.4C1242.2 729.2 1244.5 729.5 1246.8 730.4C1249.1 731.3 1251.5 732.5 1253.8 733.8C1256.1 735.1 1258.5 736.5 1260.8 738.4C1263.1 740.3 1265.5 743.4 1267.8 745.1C1270.1 746.8 1272.5 747.7 1274.8 748.7C1277.1 749.7 1279.4 750.3 1281.7 751.1C1284.0 751.9 1286.4 752.9 1288.7 753.3C1291.0 753.7 1293.5 753.1 1295.7 753.3C1297.9 753.5 1299.4 754.6 1301.7 754.3C1304.0 754.0 1307.2 752.0 1309.7 751.3C1312.2 750.6 1314.4 751.0 1316.7 750.3C1319.0 749.6 1321.3 747.9 1323.6 747.1C1325.9 746.3 1327.9 745.8 1330.6 745.3C1333.3 744.8 1336.4 744.5 1339.6 744.1C1342.8 743.7 1346.3 743.3 1349.6 742.7C1352.9 742.1 1356.3 741.2 1359.6 740.4C1362.9 739.6 1366.2 738.7 1369.5 737.8C1372.8 736.9 1376.2 735.9 1379.5 734.8C1382.8 733.7 1386.2 732.3 1389.5 731.4C1392.8 730.5 1396.2 729.7 1399.5 729.2C1402.8 728.7 1406.1 728.4 1409.4 728.2C1412.7 728.0 1417.1 727.9 1419.4 727.8C1421.7 727.7 1420.7 728.0 1423.0 727.5C1425.3 727.0 1430.0 725.1 1433.5 724.5C1437.0 723.9 1440.4 724.2 1443.9 724.0C1447.4 723.8 1451.5 723.9 1454.4 723.4C1457.3 722.9 1458.2 721.3 1461.4 720.8C1464.6 720.3 1469.8 720.4 1473.6 720.5C1477.4 720.6 1480.3 721.3 1484.1 721.7C1487.9 722.1 1492.8 722.5 1496.3 723.1C1499.8 723.7 1502.4 724.9 1505.0 725.2C1507.6 725.5 1509.8 725.5 1512.0 724.8C1514.2 724.1 1516.1 722.0 1518.1 720.8C1520.1 719.5 1521.7 717.1 1523.9 717.3C1526.1 717.5 1528.8 720.2 1531.2 722.2C1533.6 724.2 1535.9 727.5 1538.2 729.2C1540.5 730.9 1542.9 731.4 1545.2 732.2C1547.5 733.0 1549.9 733.5 1552.2 734.1C1554.5 734.7 1556.9 734.6 1559.2 735.8C1561.5 737.0 1563.8 740.0 1566.1 741.4C1568.4 742.8 1570.8 743.1 1573.1 744.0C1575.4 744.9 1577.8 745.8 1580.1 746.7C1582.4 747.6 1584.8 748.4 1587.1 749.3C1589.4 750.2 1591.8 751.3 1594.1 751.9C1596.4 752.5 1598.8 752.7 1601.1 752.8C1603.4 752.9 1605.7 752.6 1608.0 752.4C1610.3 752.2 1612.7 751.7 1615.0 751.4C1617.3 751.1 1619.7 751.0 1622.0 750.7C1624.3 750.4 1626.7 749.8 1629.0 749.6C1631.3 749.4 1633.7 749.5 1636.0 749.6C1638.3 749.7 1640.6 750.0 1642.9 750.2C1645.2 750.4 1647.6 750.5 1649.9 750.7C1652.2 750.9 1654.6 751.9 1656.9 751.6C1659.2 751.3 1661.6 749.4 1663.9 748.8C1666.2 748.2 1668.6 748.2 1670.9 748.1C1673.2 748.0 1675.6 748.8 1677.9 748.4C1680.2 748.0 1682.5 747.0 1684.8 745.8C1687.1 744.6 1689.6 743.2 1691.8 741.4C1694.0 739.6 1696.0 736.6 1697.9 735.0C1699.8 733.4 1702.2 732.3 1703.0 731.8" fill="none" stroke="#2962ff" stroke-width="1.25" stroke-linejoin="round" stroke-linecap="round"/>
<path d="M0.0 701.5C1.3 701.0 5.3 699.3 8.0 698.5C10.7 697.7 12.7 697.4 16.0 696.9C19.3 696.4 23.9 695.9 27.9 695.5C31.9 695.1 35.6 694.7 39.9 694.5C44.2 694.3 48.9 694.5 53.9 694.5C58.9 694.5 64.8 694.5 69.8 694.5C74.8 694.5 78.8 694.5 83.8 694.3C88.8 694.1 93.8 693.7 99.8 693.5C105.8 693.3 113.1 693.0 119.7 692.9C126.3 692.8 133.7 693.1 139.7 692.9C145.7 692.7 150.6 692.4 155.6 691.9C160.6 691.4 163.9 690.5 169.6 689.9C175.2 689.3 182.8 688.8 189.5 688.3C196.2 687.8 204.5 687.4 209.5 687.1C214.5 686.8 216.2 686.6 219.5 686.7C222.8 686.8 226.1 687.0 229.4 687.5C232.7 688.0 235.7 688.5 239.4 689.5C243.1 690.5 247.1 691.9 251.4 693.5C255.7 695.1 260.5 697.1 265.3 698.9C270.1 700.7 275.9 702.6 280.0 704.2C284.1 705.9 286.7 707.2 290.0 708.8C293.3 710.4 296.7 712.2 300.0 713.8C303.3 715.4 306.6 716.6 309.9 718.2C313.2 719.8 316.9 721.1 319.9 723.2C322.9 725.3 325.2 727.7 327.9 730.8C330.6 733.9 332.9 737.8 335.9 741.8C338.9 745.8 342.5 750.6 345.8 754.7C349.1 758.9 352.5 763.2 355.8 766.7C359.1 770.2 362.5 773.1 365.8 775.7C369.1 778.4 372.5 780.7 375.8 782.6C379.1 784.5 382.4 785.7 385.7 787.0C389.0 788.3 392.4 789.5 395.7 790.2C399.0 790.9 402.4 791.2 405.7 791.2C409.0 791.2 412.0 790.8 415.7 790.0C419.4 789.2 423.0 787.8 427.6 786.6C432.2 785.4 438.3 783.9 443.6 782.6C448.9 781.3 454.6 780.4 459.6 778.7C464.6 777.1 468.9 775.2 473.5 772.7C478.1 770.2 483.7 766.3 487.5 763.7C491.3 761.1 493.5 759.8 496.5 757.3C499.5 754.8 502.2 751.8 505.4 748.7C508.5 745.6 512.1 741.8 515.4 738.8C518.7 735.8 522.1 733.2 525.4 730.8C528.7 728.4 532.1 726.1 535.4 724.4C538.7 722.7 542.0 721.4 545.3 720.4C548.6 719.4 552.0 718.7 555.3 718.2C558.6 717.7 561.2 717.5 565.3 717.4C569.4 717.3 575.9 717.2 580.0 717.4C584.1 717.6 586.7 718.2 590.0 718.8C593.3 719.4 596.4 720.4 600.0 721.2C603.6 722.0 608.2 722.5 611.9 723.8C615.5 725.1 618.6 727.1 621.9 728.8C625.2 730.5 628.6 732.3 631.9 733.8C635.2 735.3 638.5 736.7 641.8 737.8C645.1 738.9 648.5 739.5 651.8 740.4C655.1 741.3 658.5 742.3 661.8 743.1C665.1 743.9 668.5 744.8 671.8 745.1C675.1 745.4 678.4 745.3 681.7 745.1C685.0 744.9 688.4 744.0 691.7 743.7C695.0 743.4 698.4 743.0 701.7 743.1C705.0 743.2 708.1 743.6 711.7 744.1C715.4 744.6 719.6 745.6 723.6 746.1C727.6 746.6 731.3 746.7 735.6 747.1C739.9 747.5 745.6 748.0 749.6 748.3C753.6 748.6 756.3 748.8 759.6 748.7C762.9 748.6 766.2 748.2 769.5 747.7C772.8 747.2 776.2 746.6 779.5 745.7C782.8 744.8 786.2 743.6 789.5 742.3C792.8 741.0 796.2 739.4 799.5 737.8C802.8 736.2 806.1 734.4 809.4 732.8C812.7 731.2 816.1 729.6 819.4 728.2C822.7 726.8 826.1 725.3 829.4 724.4C832.7 723.5 836.1 723.1 839.4 722.8C842.7 722.5 846.0 722.3 849.3 722.4C852.6 722.5 856.0 723.1 859.3 723.4C862.6 723.7 865.8 724.0 869.3 724.4C872.8 724.8 874.9 725.6 880.0 725.8C885.1 726.0 893.4 726.1 900.0 725.8C906.6 725.5 913.2 724.8 919.9 723.8C926.5 722.8 933.2 720.8 939.9 719.8C946.5 718.8 953.8 718.0 959.8 717.8C965.8 717.6 971.1 718.3 975.8 718.8C980.4 719.3 983.7 720.6 987.7 720.8C991.7 721.0 996.4 720.5 999.7 719.8C1003.0 719.1 1005.0 718.8 1007.7 716.8C1010.4 714.8 1013.1 711.6 1015.7 707.8C1018.4 704.0 1021.0 698.9 1023.6 693.9C1026.2 688.9 1029.9 681.4 1031.6 677.9C1033.3 674.4 1032.1 676.7 1033.8 672.7C1035.5 668.7 1039.0 660.5 1041.8 653.7C1044.6 646.9 1048.1 637.4 1050.8 631.8C1053.5 626.1 1055.3 623.8 1057.8 619.8C1060.3 615.8 1062.7 611.6 1065.7 607.8C1068.7 604.0 1072.4 599.9 1075.7 596.9C1079.0 593.9 1082.4 591.7 1085.7 589.9C1089.0 588.1 1092.7 587.0 1095.7 586.3C1098.7 585.6 1100.6 585.4 1103.6 585.5C1106.6 585.6 1110.3 586.0 1113.6 586.9C1116.9 587.8 1119.9 589.0 1123.6 590.9C1127.3 592.8 1132.3 596.0 1135.6 598.5C1138.9 601.0 1140.8 602.9 1143.5 605.8C1146.2 608.7 1148.5 611.8 1151.5 615.8C1154.5 619.8 1158.5 625.8 1161.5 629.8C1164.5 633.8 1166.4 635.5 1169.5 639.8C1172.6 644.1 1176.6 650.4 1180.0 655.4C1183.4 660.4 1186.7 665.5 1190.0 669.9C1193.3 674.3 1196.3 677.8 1200.0 681.9C1203.7 686.0 1207.6 690.3 1211.9 694.3C1216.2 698.3 1221.2 702.6 1225.9 705.8C1230.6 708.9 1235.6 711.0 1239.9 713.2C1244.2 715.4 1247.8 716.8 1251.8 718.8C1255.8 720.8 1259.8 723.0 1263.8 725.4C1267.8 727.8 1271.8 731.0 1275.8 733.4C1279.8 735.8 1283.7 738.0 1287.7 739.8C1291.7 741.6 1295.7 743.0 1299.7 744.1C1303.7 745.2 1307.7 745.7 1311.7 746.1C1315.7 746.5 1318.9 746.8 1323.6 746.7C1328.2 746.6 1333.6 746.3 1339.6 745.7C1345.6 745.1 1352.9 744.3 1359.6 743.3C1366.2 742.3 1372.8 741.1 1379.5 739.8C1386.2 738.5 1392.8 736.7 1399.5 735.4C1406.2 734.1 1415.5 732.4 1419.4 731.8C1423.3 731.2 1420.7 732.1 1423.0 731.8C1425.3 731.4 1430.0 730.3 1433.5 729.7C1437.0 729.1 1439.8 728.6 1443.9 728.0C1448.0 727.4 1453.2 726.8 1457.9 726.2C1462.6 725.6 1467.2 724.8 1471.9 724.3C1476.6 723.8 1481.2 723.3 1485.8 723.1C1490.4 722.9 1495.1 723.1 1499.8 723.1C1504.5 723.1 1509.1 723.2 1513.8 723.1C1518.5 723.0 1523.6 722.2 1527.7 722.2C1531.8 722.2 1534.7 722.8 1538.2 723.4C1541.7 724.0 1545.2 724.7 1548.7 725.7C1552.2 726.7 1555.7 728.0 1559.2 729.2C1562.7 730.4 1566.1 731.5 1569.6 732.7C1573.1 733.9 1576.6 735.0 1580.1 736.2C1583.6 737.4 1587.1 738.5 1590.6 739.7C1594.1 740.9 1597.6 742.2 1601.1 743.2C1604.6 744.2 1608.0 745.1 1611.5 745.8C1615.0 746.5 1618.5 746.9 1622.0 747.2C1625.5 747.5 1629.0 747.4 1632.5 747.5C1636.0 747.6 1639.4 747.9 1642.9 748.1C1646.4 748.3 1649.9 748.6 1653.4 748.8C1656.9 749.0 1659.8 749.3 1663.9 749.3C1668.0 749.3 1673.8 749.1 1677.9 748.8C1682.0 748.4 1685.1 748.0 1688.3 747.2C1691.5 746.4 1694.6 744.8 1697.1 744.0C1699.5 743.2 1702.0 742.6 1703.0 742.3" fill="none" stroke="#ff6d00" stroke-width="1.25" stroke-linejoin="round" stroke-linecap="round"/>
<path d="M1205.5 2V538" stroke="#7d7d7d" stroke-width="1" stroke-dasharray="5 6" shape-rendering="crispEdges"/>
<path d="M1205.5 539V802" stroke="#7d7d7d" stroke-width="1" stroke-dasharray="5 6" shape-rendering="crispEdges"/>
<path d="M0 599.5H1703" stroke="#7d7d7d" stroke-width="1" stroke-dasharray="5 6" shape-rendering="crispEdges"/>
<rect x="0" y="549" width="200" height="22" fill="#fff" fill-opacity="0.85"/>
<g font-size="14.6" stroke-width="0.25">
<text x="-1.5" y="564.5" fill="#505258" stroke="#505258" textLength="52.5" lengthAdjust="spacingAndGlyphs">12 26 9</text>
<text x="62" y="564.5" fill="#ffcdd2" stroke="#ffcdd2" textLength="47.2" lengthAdjust="spacingAndGlyphs">−192.5</text>
<text x="117.7" y="564.5" fill="#2962ff" stroke="#2962ff" textLength="30.3" lengthAdjust="spacingAndGlyphs">49.2</text>
<text x="156.7" y="564.5" fill="#ff6d00" stroke="#ff6d00" textLength="39.2" lengthAdjust="spacingAndGlyphs">241.7</text>
</g>
<rect x="1600.1" y="544.9" width="28" height="28.5" rx="4.5" fill="#fff" fill-opacity="0.35" stroke="#f1f1f2" stroke-width="1"/>
<rect x="1634.9" y="544.9" width="28" height="28.5" rx="4.5" fill="#fff" fill-opacity="0.35" stroke="#f1f1f2" stroke-width="1"/>
<rect x="1669.8" y="544.9" width="28" height="28.5" rx="4.5" fill="#fff" fill-opacity="0.35" stroke="#f1f1f2" stroke-width="1"/>
<g stroke="#787878" stroke-width="1.2" fill="none" stroke-linecap="butt" stroke-linejoin="miter">
<path d="M1613.4 565V553.6M1608.2 558L1613.4 553.5L1618.6 558"/>
<path d="M1641.1 554.3H1655.3M1645.3 554V553.2Q1645.3 551.6 1647 551.6H1649.4Q1651.1 551.6 1651.1 553.2V554M1642.9 554.5L1644 565.6Q1644.2 567 1645.6 567H1650.9Q1652.3 567 1652.5 565.6L1653.6 554.5"/>
<path d="M1678.8 552.3L1683.4 556.2L1688 552.3M1678.8 566.4L1683.4 562.5L1688 566.4"/>
</g>
<text x="0.3" y="807" font-size="26.5" font-weight="700" fill="#111" stroke="#111" stroke-width="0.5" textLength="112.8" lengthAdjust="spacingAndGlyphs">dingView</text>
<rect x="1682.5" y="788.2" width="30" height="30" rx="4.5" fill="#fff" stroke="#f0f1f4"/>
<path d="M1696.9 796.3L1703 802M1692.8 799.7L1695.4 802.2" stroke="#4a4a4a" stroke-width="1.6" fill="none"/>
</svg></body></html>
